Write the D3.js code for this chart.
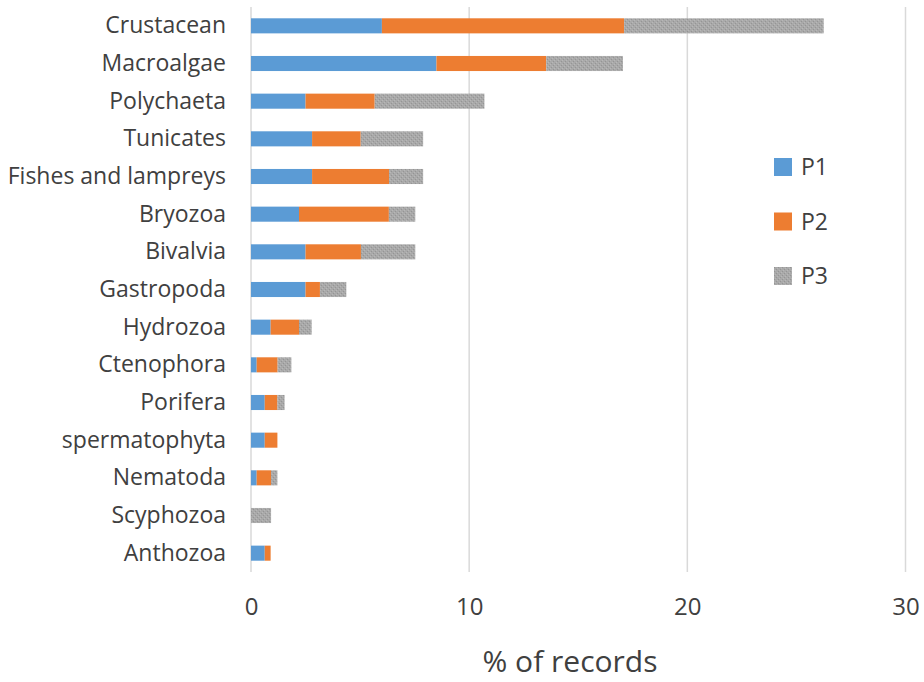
<!DOCTYPE html>
<html lang="en">
<head>
  <meta charset="UTF-8">
  <title>% of records by group</title>
  <script src="https://cdn.jsdelivr.net/npm/d3@7"></script>
  <style>
    body { margin: 0; background: #fff; }
    text { font-family: "Open Sans", sans-serif; fill: #404040; }
    .grid line { stroke: #d9d9d9; stroke-width: 1.5px; }
  </style>
</head>
<body>
<div class="chart"></div>
<script>
  // data (% of records)
  const categories = ['Crustacean', 'Macroalgae', 'Polychaeta', 'Tunicates', 'Fishes and lampreys',
    'Bryozoa', 'Bivalvia', 'Gastropoda', 'Hydrozoa', 'Ctenophora', 'Porifera', 'spermatophyta',
    'Nematoda', 'Scyphozoa', 'Anthozoa'];
  const seriesNames = ['P1', 'P2', 'P3'];
  const p1 = [6.0, 8.5, 2.5, 2.8, 2.8, 2.2, 2.5, 2.5, 0.9, 0.26, 0.63, 0.63, 0.26, 0, 0.63];
  const p2 = [11.1, 5.03, 3.17, 2.23, 3.53, 4.12, 2.54, 0.66, 1.3, 0.96, 0.58, 0.58, 0.66, 0, 0.27];
  const p3 = [9.15, 3.52, 5.03, 2.86, 1.56, 1.21, 2.49, 1.21, 0.58, 0.63, 0.33, 0, 0.29, 0.92, 0];
  const xTicks = [0, 10, 20, 30];
  const colors = ['#5b9bd5', '#ed7d31', 'url(#p3tex)'];

  const W = 924, H = 682;
  const margin = { top: 7, right: 18, bottom: 110, left: 251 };
  const height = H - margin.top - margin.bottom;

  const svg = d3.select('.chart').append('svg').attr('width', W).attr('height', H);

  // textured gray for P3
  const pat = svg.append('defs').append('pattern').attr('id', 'p3tex')
    .attr('patternUnits', 'userSpaceOnUse').attr('width', 4).attr('height', 4);
  pat.append('rect').attr('width', 4).attr('height', 4).attr('fill', '#a9a9a9');
  pat.append('rect').attr('x', 0).attr('y', 0).attr('width', 1).attr('height', 1).attr('fill', '#959595');
  pat.append('rect').attr('x', 2).attr('y', 2).attr('width', 1).attr('height', 1).attr('fill', '#959595');
  pat.append('rect').attr('x', 1).attr('y', 3).attr('width', 1).attr('height', 1).attr('fill', '#b8b8b8');
  pat.append('rect').attr('x', 3).attr('y', 1).attr('width', 1).attr('height', 1).attr('fill', '#b8b8b8');

  const g = svg.append('g').attr('transform', `translate(${margin.left},${margin.top})`);

  const x = d3.scaleLinear().domain([0, 30]).range([0, 654.5]);
  const y = d3.scaleBand().domain(categories).range([0, height]).paddingInner(0.6).paddingOuter(0.3);

  // gridlines
  g.append('g').attr('class', 'grid').selectAll('line').data(xTicks).enter().append('line')
    .attr('x1', d => x(d)).attr('x2', d => x(d)).attr('y1', 0).attr('y2', height);

  const rows = categories.map((c, i) => ({ cat: c, P1: p1[i], P2: p2[i], P3: p3[i] }));
  const stacked = d3.stack().keys(seriesNames)(rows);

  g.selectAll('g.series').data(stacked).enter().append('g')
    .attr('class', 'series')
    .attr('fill', (d, i) => colors[i])
    .selectAll('rect').data(d => d).enter().append('rect')
    .attr('x', d => x(d[0]))
    .attr('y', d => y(d.data.cat))
    .attr('width', d => x(d[1]) - x(d[0]))
    .attr('height', y.bandwidth());

  // category axis
  const yAxis = g.append('g').call(d3.axisLeft(y).tickSize(0).tickPadding(25));
  yAxis.select('.domain').remove();
  yAxis.selectAll('text').style('font-family', '"Open Sans", sans-serif')
    .style('font-size', '23px').attr('fill', '#404040');

  // value axis
  const xAxis = g.append('g').attr('transform', `translate(0,${height})`)
    .call(d3.axisBottom(x).tickValues(xTicks).tickSize(0).tickPadding(26));
  xAxis.select('.domain').remove();
  xAxis.selectAll('text').style('font-family', '"Open Sans", sans-serif')
    .style('font-size', '24px').attr('fill', '#404040');

  svg.append('text').attr('x', 570).attr('y', 672)
    .attr('text-anchor', 'middle').style('font-size', '30px').attr('fill', '#404040')
    .text('% of records');

  // legend
  const lg = svg.append('g').attr('transform', 'translate(774,158)');
  const item = lg.selectAll('g').data(seriesNames).enter().append('g')
    .attr('transform', (d, i) => `translate(0,${i * 54.5})`);
  item.append('rect').attr('width', 18).attr('height', 18).attr('fill', (d, i) => colors[i]);
  item.append('text').attr('x', 27).attr('y', 9).attr('dy', '0.36em')
    .style('font-size', '23px').attr('fill', '#595959').text(d => d);
</script>
</body>
</html>
